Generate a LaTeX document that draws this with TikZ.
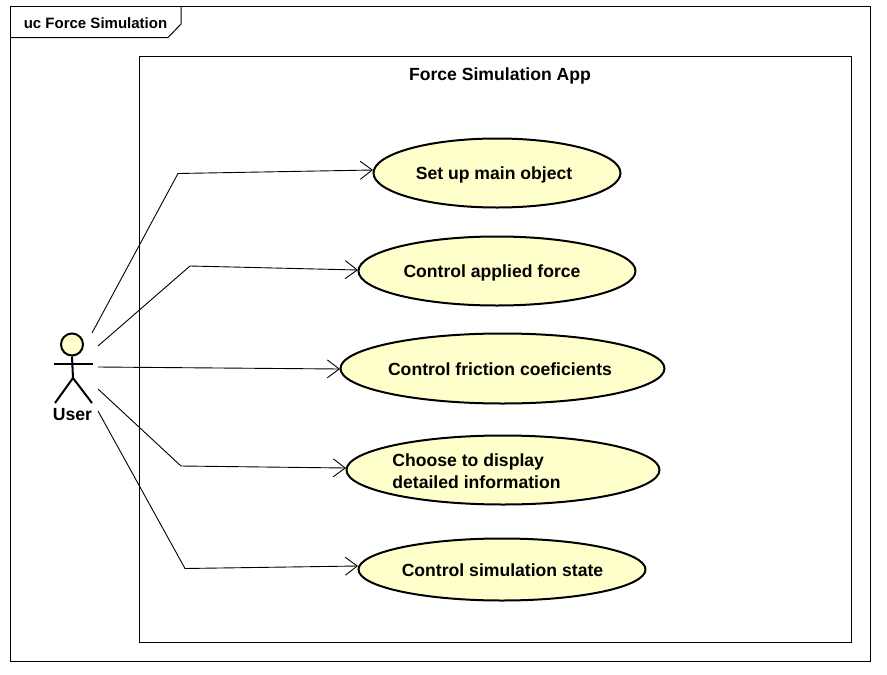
\documentclass[tikz,border=0pt]{standalone}
\usepackage{fontspec}
\setmainfont{Liberation Sans}
\usetikzlibrary{shapes.geometric,arrows.meta}
\definecolor{ucfill}{HTML}{FFFFCC}
\tikzset{
  frameline/.style={draw=black,line width=1pt},
  usecase/.style={ellipse,draw=black,line width=2pt,fill=ucfill,inner sep=0pt},
  uclabel/.style={inner sep=0pt,font=\bfseries\fontsize{17.6pt}{22pt}\selectfont,text=black},
  titlelabel/.style={inner sep=0pt,font=\bfseries\fontsize{15pt}{18pt}\selectfont,text=black},
  assoc/.style={draw=black,line width=0.9pt,-{Straight Barb[length=12pt,width=18pt,line width=0.9pt]}},
  actorline/.style={draw=black,line width=2pt},
}
\begin{document}
\begin{tikzpicture}[x=1pt,y=-1pt]
\useasboundingbox[fill=white] (0,0) rectangle (887,675);
% frames
\draw[frameline] (10.5,6.5) rectangle (870.5,661.5);
\draw[frameline] (10.5,37.5) -- (168,37.5) -- (181,24) -- (181,6.5);
\node[titlelabel,anchor=center] (title) at (95.5,23) {uc Force Simulation};
\draw[frameline] (139.5,56.5) rectangle (851.5,642.5);
\node[uclabel,anchor=center] (sys) at (500,75.5) {Force Simulation App};
% use cases
\node[usecase,minimum width=247pt,minimum height=69pt] (u1) at (497,173) {};
\node[usecase,minimum width=277pt,minimum height=69pt] (u2) at (497,271) {};
\node[usecase,minimum width=324pt,minimum height=70pt] (u3) at (502.5,368.5) {};
\node[usecase,minimum width=313pt,minimum height=69pt] (u4) at (503,470) {};
\node[usecase,minimum width=287pt,minimum height=62pt] (u5) at (502,569.5) {};
\node[uclabel] (l1) at (494,175) {Set up main object};
\node[uclabel] (l2) at (492,273) {Control applied force};
\node[uclabel] (l3) at (500,369) {Control friction coeficients};
\node[uclabel,align=left] (l4) at (476.5,471) {Choose to display\\detailed information};
\node[uclabel] (l5) at (502.5,570) {Control simulation state};
% actor
\node[circle,draw=black,line width=2pt,fill=ucfill,minimum size=22pt,inner sep=0pt] (head) at (72,344.5) {};
\coordinate (hip) at (73,378);
\coordinate (armL) at (54,364);
\coordinate (armR) at (93,364);
\coordinate (legL) at (55,403);
\coordinate (legR) at (92,403);
\draw[actorline] (head.south) -- (hip);
\draw[actorline] (armL) -- (armR);
\draw[actorline] (legL) -- (hip) -- (legR);
\node[uclabel] (user) at (72.5,415) {User};
% associations
\coordinate (s1) at (92,333);
\coordinate (b1) at (178,173.5);
\coordinate (s2) at (98,346);
\coordinate (b2) at (190,266);
\coordinate (s3) at (98,367);
\coordinate (s4) at (98,389);
\coordinate (b4) at (181,466);
\coordinate (s5) at (98,411);
\coordinate (b5) at (185,568.5);
\coordinate (e1) at (373,170);
\coordinate (e2) at (358,270);
\coordinate (e3) at (340,369);
\coordinate (e4) at (346,468);
\coordinate (e5) at (358,566);
\draw[assoc] (s1) -- (b1) -- (e1);
\draw[assoc] (s2) -- (b2) -- (e2);
\draw[assoc] (s3) -- (e3);
\draw[assoc] (s4) -- (b4) -- (e4);
\draw[assoc] (s5) -- (b5) -- (e5);
\end{tikzpicture}
\end{document}
